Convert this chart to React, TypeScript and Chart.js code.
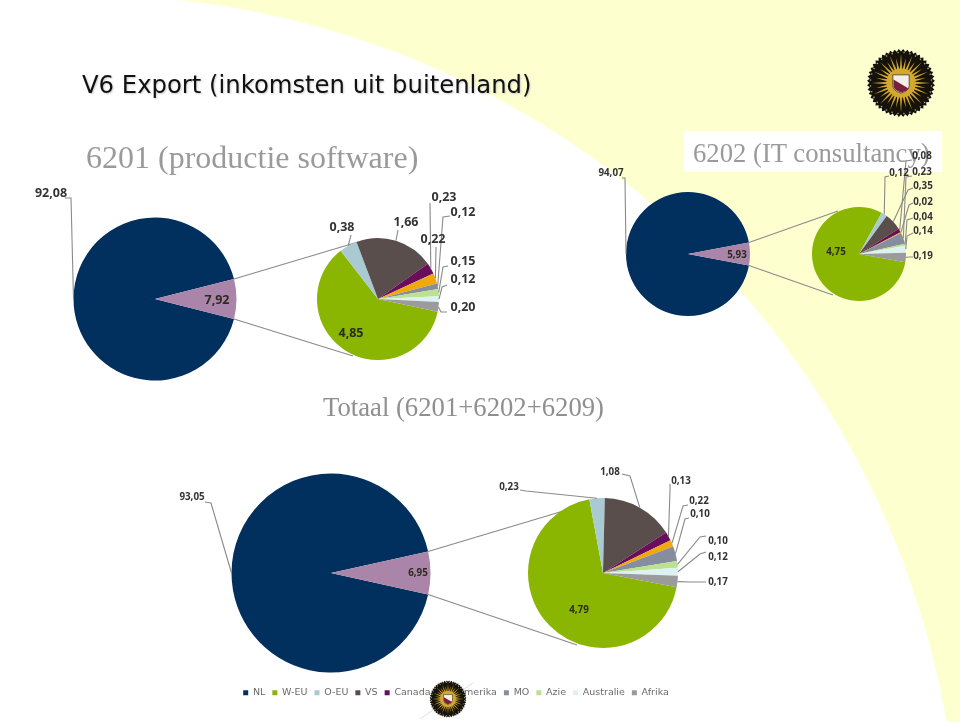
import React, { useEffect, useRef } from "react";
import { Chart, registerables } from "chart.js";

Chart.register(...registerables);

// ---------- data ----------
const regions = ["W-EU", "O-EU", "VS", "Canada", "N-Amerika", "MO", "Azie", "Australie", "Afrika"];
const legendCategories = ["NL", ...regions];

const nl6201 = 92.08;
const abroad6201 = 7.92;
const regions6201 = [4.85, 0.38, 1.66, 0.23, 0.22, 0.12, 0.15, 0.12, 0.2];

const nl6202 = 94.07;
const abroad6202 = 5.93;
const regions6202 = [4.75, 0.12, 0.35, 0.08, 0.02, 0.23, 0.04, 0.14, 0.19];

const nlTotal = 93.05;
const abroadTotal = 6.95;
const regionsTotal = [4.79, 0.23, 1.08, 0.13, 0.1, 0.22, 0.1, 0.12, 0.17];

// ---------- styles ----------
const NAVY = "#02305E";
const MAUVE = "#AB84AA";
const regionColors = ["#8AB500", "#A9CAD3", "#5A4E4C", "#6A0D5C", "#EFA90F", "#858D9E", "#BBE191", "#DCF2F2", "#9B9B9B"];
const LABEL_FONT = '"Open Sans", sans-serif';

type Spot = { x: number; y: number; via?: [number, number][]; anchor?: number; inside?: boolean };
type Link = { to: [number, number]; edge: "start" | "end" };
type PieSpec = {
  cx: number; cy: number; r: number; rotation: number;
  labels: string[]; values: number[]; colors: string[];
  font: number; spots: Spot[]; links?: Link[];
};

const comma = (v: number) => v.toFixed(2).replace(".", ",");

const bigPie = (
  cx: number, cy: number, r: number, nl: number, rest: number, font: number, spots: Spot[], links: Link[]
): PieSpec => ({
  cx, cy, r, rotation: 90 + rest * 1.8,
  labels: ["NL", "Buitenland"], values: [nl, rest], colors: [NAVY, MAUVE], font, spots, links,
});

const pies: PieSpec[] = [
  bigPie(155, 299, 81.5, nl6201, abroad6201, 12.5,
    [{ x: 51, y: 193, via: [[65, 198], [71, 198]] }, { x: 217, y: 300, inside: true }],
    [{ to: [358, 242], edge: "start" }, { to: [353, 356], edge: "end" }]),
  {
    cx: 378, cy: 299, r: 61, rotation: 102, labels: regions, values: regions6201, colors: regionColors, font: 12.5,
    spots: [
      { x: 351, y: 333, inside: true },
      { x: 342, y: 227, via: [[351, 235]] },
      { x: 406, y: 222, via: [[398, 230]] },
      { x: 444, y: 197, via: [[430, 203]] },
      { x: 433, y: 239, via: [[436, 247]] },
      { x: 463, y: 212, via: [[450, 216], [443, 217]] },
      { x: 463, y: 261, via: [[448, 266], [443, 267]] },
      { x: 463, y: 279, via: [[447, 285], [442, 287]] },
      { x: 463, y: 307, via: [[447, 312], [441, 312]] },
    ],
  },
  bigPie(688, 254, 62, nl6202, abroad6202, 9.8,
    [{ x: 611, y: 173, via: [[622, 178], [625, 178]] }, { x: 737, y: 255, inside: true }],
    [{ to: [838, 211], edge: "start" }, { to: [833, 295], edge: "end" }]),
  {
    cx: 859, cy: 254, r: 47, rotation: 100, labels: regions, values: regions6202, colors: regionColors, font: 9.8,
    spots: [
      { x: 836, y: 252, inside: true },
      { x: 899, y: 173, via: [[889, 176], [885, 177]] },
      { x: 923, y: 186, via: [[913, 188], [908, 190]] },
      { x: 922, y: 156, via: [[912, 160], [906, 161]] },
      { x: 923, y: 202, via: [[913, 203], [909, 205]] },
      { x: 922, y: 172, via: [[912, 176], [906, 177]] },
      { x: 923, y: 217, via: [[913, 218], [907, 220]] },
      { x: 923, y: 231, via: [[913, 233], [907, 236]] },
      { x: 923, y: 256, via: [[913, 257], [908, 257]] },
    ],
  },
  bigPie(331, 573, 99.5, nlTotal, abroadTotal, 9.8,
    [{ x: 192, y: 497, via: [[205, 502], [211, 503]] }, { x: 418, y: 573, inside: true }],
    [{ to: [590, 503], edge: "start" }, { to: [577, 645], edge: "end" }]),
  {
    cx: 603, cy: 573, r: 75, rotation: 101, labels: regions, values: regionsTotal, colors: regionColors, font: 9.8,
    spots: [
      { x: 579, y: 610, inside: true },
      { x: 509, y: 487, via: [[520, 490], [526, 491]] },
      { x: 610, y: 472, via: [[622, 474], [630, 476]] },
      { x: 681, y: 481, via: [[670, 484], [670, 490]] },
      { x: 700, y: 514, via: [[689, 518], [685, 519]], anchor: 5 },
      { x: 699, y: 501, via: [[688, 505], [683, 506]], anchor: 4 },
      { x: 718, y: 541, via: [[706, 536], [700, 537]] },
      { x: 718, y: 557, via: [[706, 552], [700, 554]] },
      { x: 718, y: 582, via: [[706, 582], [690, 582]] },
    ],
  },
];

// Draws leader lines, value labels and the connector lines of a pie
const notesPlugin = (spec: PieSpec) => ({
  id: "pieNotes",
  afterDatasetsDraw(chart: any) {
    const ctx = chart.ctx;
    const arcs = chart.getDatasetMeta(0).data;
    ctx.save();
    ctx.strokeStyle = "#8a8a8a";
    ctx.lineWidth = 1.1;
    (spec.links || []).forEach((link) => {
      const arc = arcs[1];
      const a = link.edge === "start" ? arc.startAngle : arc.endAngle;
      ctx.beginPath();
      ctx.moveTo(arc.x + Math.cos(a) * arc.outerRadius, arc.y + Math.sin(a) * arc.outerRadius);
      ctx.lineTo(link.to[0], link.to[1]);
      ctx.stroke();
    });
    spec.spots.forEach((spot, i) => {
      if (spot.inside || !spot.via) return;
      const arc = arcs[spot.anchor ?? i];
      const mid = (arc.startAngle + arc.endAngle) / 2;
      ctx.beginPath();
      spot.via.forEach(([x, y], k) => (k ? ctx.lineTo(x, y) : ctx.moveTo(x, y)));
      ctx.lineTo(arc.x + Math.cos(mid) * arc.outerRadius, arc.y + Math.sin(mid) * arc.outerRadius);
      ctx.stroke();
    });
    ctx.font = `700 ${spec.font}px ${LABEL_FONT}`;
    ctx.textAlign = "center";
    ctx.textBaseline = "middle";
    spec.spots.forEach((spot, i) => {
      ctx.fillStyle = spot.inside ? "#2b2b1e" : "#333333";
      ctx.fillText(comma(spec.values[i]), spot.x, spot.y);
    });
    ctx.restore();
  },
});

const SOFT = "blur(0.35px)";

const PieCanvas = ({ spec }: { spec: PieSpec }) => {
  const ref = useRef<HTMLCanvasElement>(null);
  useEffect(() => {
    const chart = new Chart(ref.current as HTMLCanvasElement, {
      type: "pie",
      data: {
        labels: spec.labels,
        datasets: [{ data: spec.values, backgroundColor: spec.colors, borderWidth: 0, hoverOffset: 0 }],
      },
      options: {
        animation: false,
        responsive: false,
        events: [],
        rotation: spec.rotation,
        layout: {
          padding: {
            left: spec.cx - spec.r,
            right: 960 - spec.cx - spec.r,
            top: spec.cy - spec.r,
            bottom: 722 - spec.cy - spec.r,
          },
        },
        plugins: { legend: { display: false }, tooltip: { enabled: false } },
      },
      plugins: [notesPlugin(spec)],
    } as any);
    return () => chart.destroy();
  }, [spec]);
  return <canvas ref={ref} width={960} height={722} style={{ position: "absolute", left: 0, top: 0, filter: SOFT }} />;
};

const LegendCanvas = () => {
  const ref = useRef<HTMLCanvasElement>(null);
  useEffect(() => {
    const chart = new Chart(ref.current as HTMLCanvasElement, {
      type: "pie",
      data: {
        labels: legendCategories,
        datasets: [{
          data: [nlTotal, ...regionsTotal],
          backgroundColor: [NAVY, ...regionColors],
          borderWidth: 0,
          radius: 0,
        }],
      },
      options: {
        animation: false,
        responsive: false,
        events: [],
        plugins: {
          tooltip: { enabled: false },
          legend: {
            position: "top",
            maxHeight: 24,
            labels: {
              boxWidth: 5,
              boxHeight: 5,
              padding: 7,
              color: "#6a6a6a",
              font: { family: '"DejaVu Sans", sans-serif', size: 9.5 },
            },
          },
        },
      },
    } as any);
    return () => chart.destroy();
  }, []);
  return <canvas ref={ref} width={912} height={24} style={{ position: "absolute", left: 0, top: 681, filter: SOFT }} />;
};

const Seal = ({ cx, cy, r }: { cx: number; cy: number; r: number }) => {
  const rays = Array.from({ length: 32 }, (_, i) => (i * Math.PI * 2) / 32);
  const pt = (a: number, q: number) => `${(Math.cos(a) * q * r).toFixed(2)},${(Math.sin(a) * q * r).toFixed(2)}`;
  const edge = Array.from({ length: 96 }, (_, i) => pt((i * Math.PI) / 48, i % 2 ? 1 : 0.93)).join(" ");
  return (
    <g transform={`translate(${cx} ${cy})`}>
      <polygon points={edge} fill="#14120a" />
      {rays.map((a, i) => (
        <polygon key={i} points={`${pt(a - 0.085, 0.4)} ${pt(a + 0.085, 0.4)} ${pt(a, i % 2 ? 0.74 : 0.86)}`} fill="#D0A62C" />
      ))}
      <circle r={0.43 * r} fill="#D2A92E" />
      {rays.map((a, i) => (
        <circle key={i} cx={Math.cos(a + 0.1) * 0.9 * r} cy={Math.sin(a + 0.1) * 0.9 * r} r={0.014 * r + 0.3} fill="#b5b09a" />
      ))}
      <path
        d={`M${-0.24 * r} ${-0.24 * r} H${0.24 * r} V${0.08 * r} Q${0.24 * r} ${0.22 * r} 0 ${0.3 * r} Q${-0.24 * r} ${0.22 * r} ${-0.24 * r} ${0.08 * r} Z`}
        fill="#F3EFE6"
        stroke="#222"
        strokeWidth={0.35 + r * 0.01}
      />
      <path
        d={`M${-0.22 * r} ${-0.1 * r} L${0.22 * r} ${0.16 * r} Q${0.16 * r} ${0.24 * r} 0 ${0.28 * r} Q${-0.22 * r} ${0.2 * r} ${-0.22 * r} ${0.08 * r} Z`}
        fill="#7A1F3D"
      />
    </g>
  );
};

const text = (left: number, top: number, size: number, color: string, family: string, extra = {}) => ({
  position: "absolute" as const, left, top, fontSize: size, color, fontFamily: family, whiteSpace: "nowrap" as const, lineHeight: 1, filter: SOFT, ...extra,
});

const SERIF = '"Liberation Serif", serif';

export default function App() {
  return (
    <div
      style={{
        position: "fixed", left: 0, top: 0, width: 960, height: 722, overflow: "hidden",
        background: "radial-gradient(circle 876px at 84px 870px, #ffffff 99.8%, #FEFFCF 100%)",
      }}
    >
      <div style={text(82, 73, 24.3, "#111", '"DejaVu Sans", sans-serif', { textShadow: "1px 1px 2px #ccc" })}>
        V6 Export (inkomsten uit buitenland)
      </div>
      <div style={text(86, 141, 32, "#9a9a9a", SERIF)}>6201 (productie software)</div>
      <div style={{ position: "absolute", left: 684, top: 131, width: 258, height: 41, background: "#fff" }} />
      <div style={text(693, 140, 26.7, "#9a9a9a", SERIF)}>6202 (IT consultancy)</div>
      <div style={text(323, 394, 26.7, "#8f8f8f", SERIF)}>Totaal (6201+6202+6209)</div>
      {pies.map((p, i) => <PieCanvas key={i} spec={p} />)}
      <LegendCanvas />
      <svg width={960} height={722} style={{ position: "absolute", left: 0, top: 0, filter: SOFT }}>
        <line x1={420} y1={719} x2={473} y2={683} stroke="#ddd" strokeWidth={1} />
        <Seal cx={901} cy={83} r={34} />
        <Seal cx={448} cy={699} r={18.5} />
      </svg>
    </div>
  );
}
